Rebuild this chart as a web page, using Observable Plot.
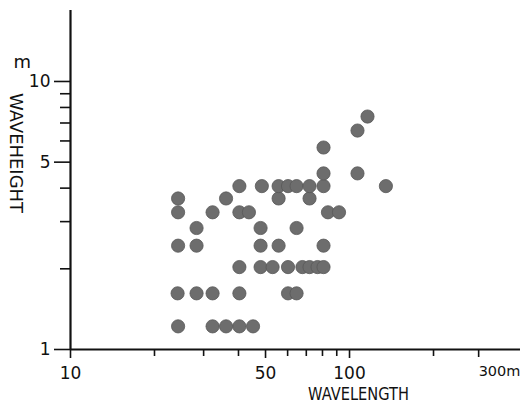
<!DOCTYPE html>
<html>
<head>
<meta charset="utf-8">
<script src="https://cdn.jsdelivr.net/npm/d3@7"></script>
<script src="https://cdn.jsdelivr.net/npm/@observablehq/plot@0.6"></script>
<style>
  html, body { margin: 0; padding: 0; background: #fff; }
</style>
</head>
<body>
<div id="chart"></div>
<script>
// Wavelength (m) and wave height (m) of observed waves
const wavelength = [
  24.3, 32.3, 36.1, 40.3, 45.1,
  24.2, 28.3, 32.3, 40.3, 60.2, 64.6,
  40.3, 48, 53, 60.2, 67.8, 71.9, 76.8, 80.7,
  24.3, 28.3, 48, 55.7, 80.7,
  28.3, 48, 64.6,
  24.3, 32.3, 40.3, 43.6, 83.7, 91.7,
  24.3, 36.1, 55.7, 71.9,
  40.3, 48.5, 55.7, 60.2, 64.6, 71.9, 80.7, 135,
  80.7, 106.8,
  80.7,
  106.8,
  116
];
const waveheight = [
  1.22, 1.22, 1.22, 1.22, 1.22,
  1.62, 1.62, 1.62, 1.62, 1.62, 1.62,
  2.03, 2.03, 2.03, 2.03, 2.03, 2.03, 2.03, 2.03,
  2.44, 2.44, 2.44, 2.44, 2.44,
  2.84, 2.84, 2.84,
  3.25, 3.25, 3.25, 3.25, 3.25, 3.25,
  3.66, 3.66, 3.66, 3.66,
  4.07, 4.07, 4.07, 4.07, 4.07, 4.07, 4.07, 4.07,
  4.54, 4.54,
  5.67,
  6.56,
  7.4
];
const xTickLabels = [10, 50, 100];
const xLastTick = [300];
const xMinorTicks = [20, 30, 40, 60, 70, 80, 90, 200];
const yTickLabels = [1, 5, 10];
const yMinorTicks = [2, 3, 4, 6, 7, 8, 9];
const xTitle = "WAVELENGTH";
const yTitle = "WAVEHEIGHT";
const unit = "m";

const data = wavelength.map((w, i) => ({wavelength: w, waveheight: waveheight[i]}));

const chart = Plot.plot({
  width: 520,
  height: 413,
  marginLeft: 70,
  marginRight: 0,
  marginTop: 10,
  marginBottom: 64,
  style: {fontFamily: "DejaVu Sans", fontSize: "17px", color: "#111", background: "#fff"},
  x: {type: "log", domain: [10, 410]},
  y: {type: "log", domain: [1, 18.4]},
  marks: [
    Plot.dot(data, {x: "wavelength", y: "waveheight", r: 6.6, fill: "#6d6d6d", stroke: "#585858", strokeWidth: 0.8}),
    Plot.axisX({ticks: xTickLabels, tickSize: 9, tickPadding: 8, strokeWidth: 1.6, label: null, tickFormat: d => String(d)}),
    Plot.axisX({ticks: xLastTick, tickSize: 8, tickPadding: 8, strokeWidth: 1.6, label: null, fontSize: 14.5, tickFormat: d => d + unit, textAnchor: "start", dx: -4}),
    Plot.axisX({ticks: xMinorTicks, tickSize: 7, strokeWidth: 1.6, label: null, tickFormat: () => ""}),
    Plot.axisY({ticks: yTickLabels, tickSize: 16, tickPadding: 4, strokeWidth: 1.6, label: null, tickFormat: d => String(d)}),
    Plot.axisY({ticks: yMinorTicks, tickSize: 10, strokeWidth: 1.6, label: null, tickFormat: () => ""}),
    Plot.ruleX([10], {stroke: "#111", strokeWidth: 2.2}),
    Plot.ruleY([1], {stroke: "#111", strokeWidth: 2.2}),
    Plot.text([xTitle], {frameAnchor: "bottom", dx: 63, dy: 50, fontSize: 17, fill: "#111"}),
    Plot.text([yTitle], {frameAnchor: "left", rotate: 90, dx: -55, dy: -87, fontSize: 17, fill: "#111"}),
    Plot.text([unit], {frameAnchor: "top-left", dx: -57, dy: 45, fontSize: 18, fill: "#111"})
  ]
});

chart.querySelectorAll("text").forEach(t => {
  if (t.textContent === xTitle) { t.setAttribute("textLength", 101); t.setAttribute("lengthAdjust", "spacingAndGlyphs"); }
  if (t.textContent === yTitle) { t.setAttribute("textLength", 120); t.setAttribute("lengthAdjust", "spacingAndGlyphs"); }
});

document.getElementById("chart").appendChild(chart);
</script>
</body>
</html>
